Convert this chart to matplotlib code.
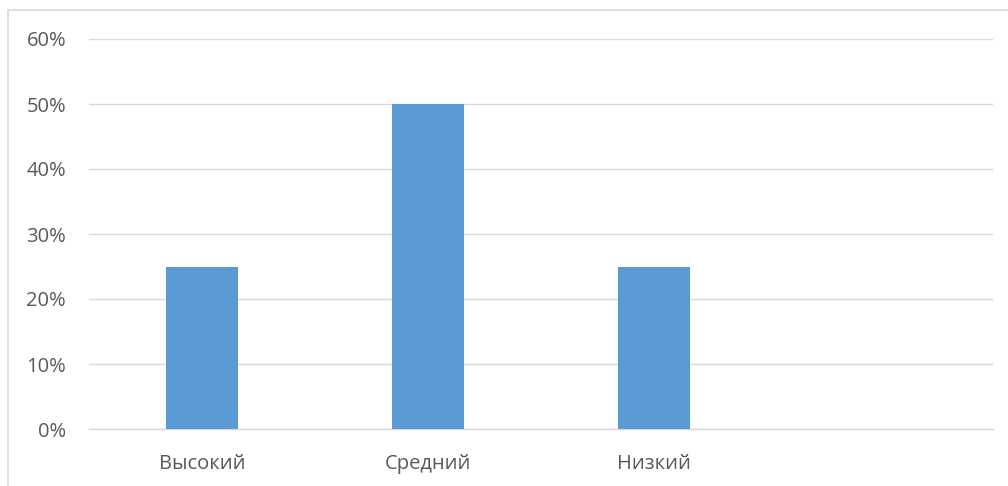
import matplotlib
matplotlib.use('Agg')
import matplotlib.pyplot as plt
import matplotlib.patches as patches
from matplotlib.ticker import PercentFormatter

# data
categories = ['Высокий', 'Средний', 'Низкий', '']
shares = [25, 50, 25, 0]
y_ticks = [0, 10, 20, 30, 40, 50, 60]

bar_color = '#5B9BD5'
grid_color = '#D9D9D9'
text_color = '#595959'

plt.rcParams['font.family'] = ['Open Sans', 'DejaVu Sans']
plt.rcParams['font.stretch'] = 'normal'

fig = plt.figure(figsize=(10.08, 4.86), dpi=100)
ax = fig.add_axes([89 / 1008, 57 / 486, 904 / 1008, 390 / 486])

x = list(range(len(categories)))
ax.bar(x[:3], shares[:3], width=0.316, color=bar_color, zorder=3)

ax.set_xlim(-0.5, len(categories) - 0.5)
ax.set_ylim(0, 60)
ax.set_yticks(y_ticks)
ax.yaxis.set_major_formatter(PercentFormatter(decimals=0))
ax.set_xticks(x)
ax.set_xticklabels(categories)

ax.grid(axis='y', color=grid_color, linewidth=1.0, zorder=0)
for side in ['top', 'right', 'left']:
    ax.spines[side].set_visible(False)
ax.spines['bottom'].set_color(grid_color)
ax.spines['bottom'].set_linewidth(1.0)

ax.tick_params(axis='both', length=0, colors=text_color, labelsize=14.5)
ax.tick_params(axis='y', pad=16.5)
ax.tick_params(axis='x', pad=18)

# light frame of the chart area (cut off at right and bottom)
frame = patches.Rectangle((8 / 1008, -0.1), 1.2, (486 - 10) / 486 + 0.1,
                          transform=fig.transFigure, fill=False,
                          edgecolor=grid_color, linewidth=1.2)
fig.patches.append(frame)

fig.savefig('out.png', dpi=100, facecolor='white')
